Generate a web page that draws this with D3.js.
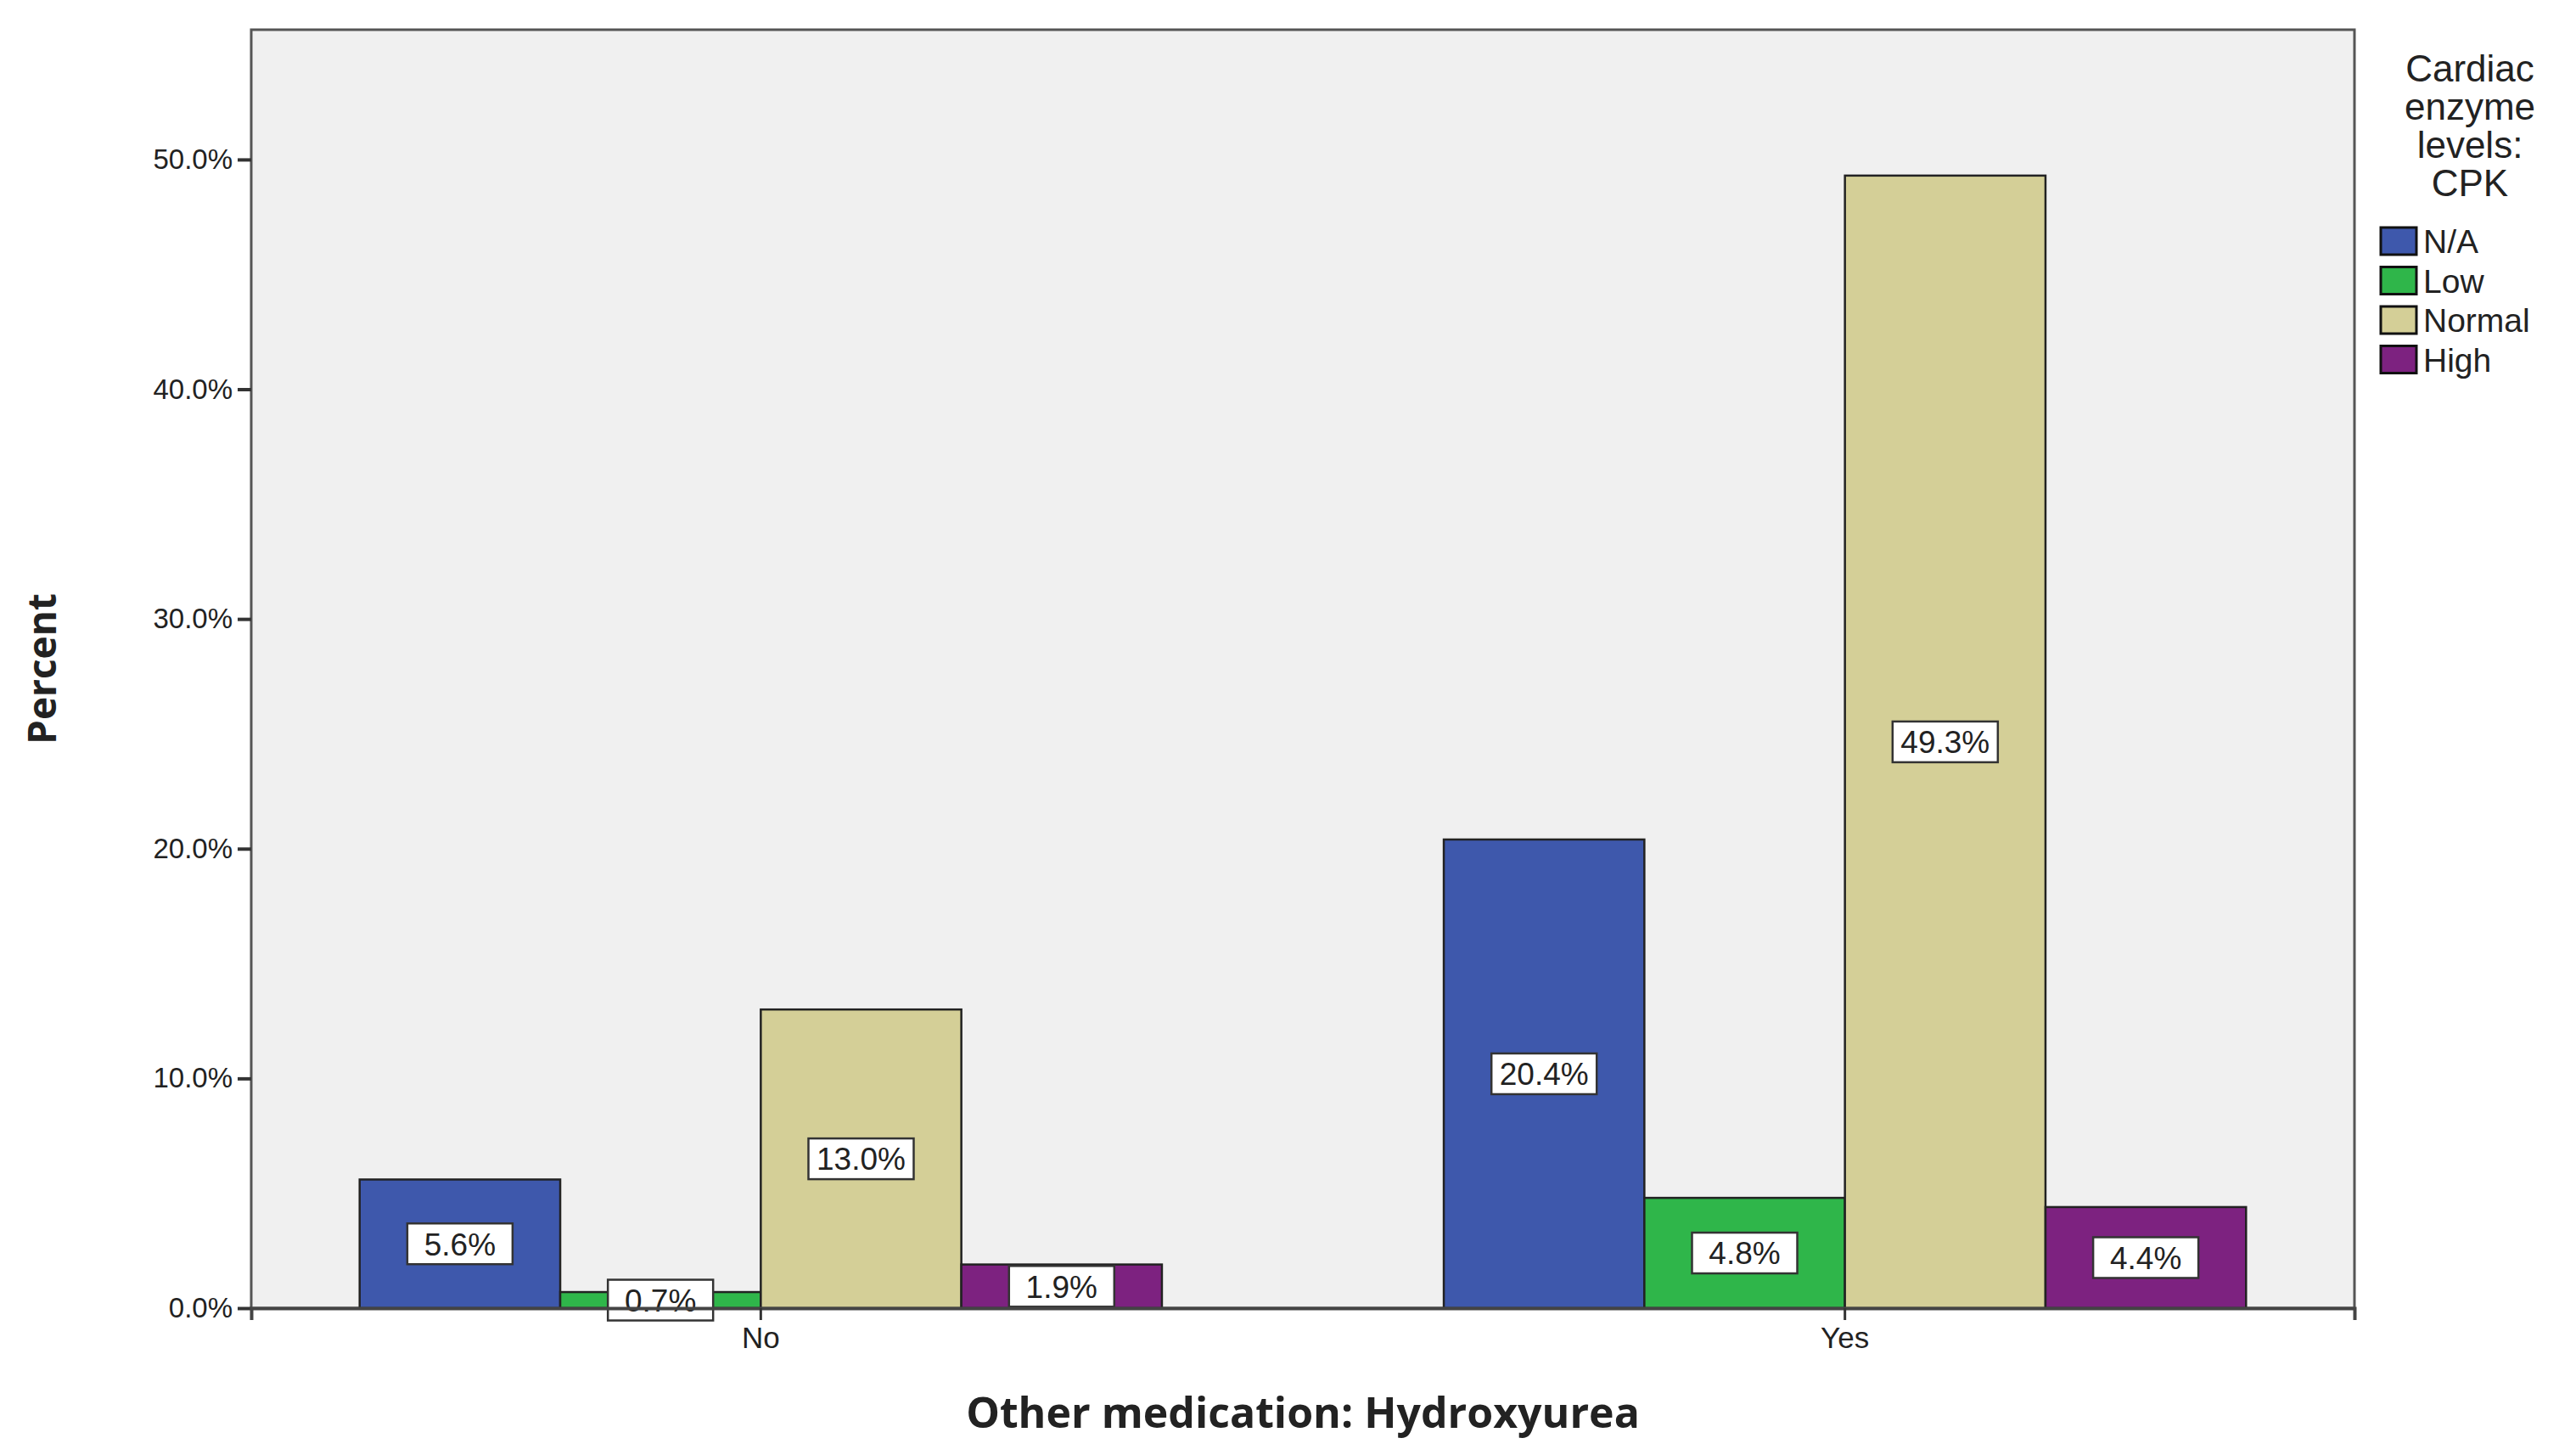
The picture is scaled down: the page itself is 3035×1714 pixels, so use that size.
<!DOCTYPE html>
<html lang="en">
<head>
<meta charset="utf-8">
<title>CPK by Hydroxyurea</title>
<style>
  body { margin: 0; background: #fff; }
  text { font-family: "Liberation Sans", Arial, sans-serif; fill: #222; }
</style>
</head>
<body>
<div id="chart"></div>
<script src="https://cdn.jsdelivr.net/npm/d3@7"></script>
<script>
var width = 3035, height = 1714;
var margin = {left: 296, top: 35, right: 261, bottom: 173};

var groups = ["No", "Yes"];
var levels = ["N/A", "Low", "Normal", "High"];
var colors = ["#3e58ac", "#2fb64a", "#d4cf97", "#7d2280"];
var valuesNo = [5.6, 0.7, 13.0, 1.9];
var valuesYes = [20.4, 4.8, 49.3, 4.4];
var yTicks = [0, 10, 20, 30, 40, 50];

var data = [];
groups.forEach(function(g, gi) {
  var vals = gi === 0 ? valuesNo : valuesYes;
  levels.forEach(function(l, li) {
    data.push({group: g, level: l, value: vals[li], color: colors[li]});
  });
});

var svg = d3.select("#chart").append("svg")
  .attr("width", width).attr("height", height);

var x0 = d3.scaleBand().domain(groups)
  .range([margin.left, width - margin.right])
  .paddingInner(0.26).paddingOuter(0.1);
var x1 = d3.scaleBand().domain(levels).range([0, x0.bandwidth()]);
var y = d3.scaleLinear().domain([0, 55.65])
  .range([height - margin.bottom, margin.top]);

// plot background + frame
svg.append("rect")
  .attr("x", margin.left).attr("y", margin.top)
  .attr("width", width - margin.left - margin.right)
  .attr("height", height - margin.top - margin.bottom)
  .attr("fill", "#f0f0f0").attr("stroke", "#555").attr("stroke-width", 3);

// bars
svg.selectAll("rect.bar").data(data).enter().append("rect")
  .attr("class", "bar")
  .attr("x", function(d) { return x0(d.group) + x1(d.level); })
  .attr("y", function(d) { return y(d.value); })
  .attr("width", x1.bandwidth())
  .attr("height", function(d) { return y(0) - y(d.value); })
  .attr("fill", function(d) { return d.color; })
  .attr("stroke", "#222").attr("stroke-width", 2.5);

// value labels
var lab = svg.selectAll("g.lab").data(data).enter().append("g")
  .attr("class", "lab")
  .attr("transform", function(d) {
    var cx = x0(d.group) + x1(d.level) + x1.bandwidth() / 2;
    var cy = (y(d.value) + y(0)) / 2;
    return "translate(" + cx + "," + cy + ")";
  });
lab.append("rect")
  .attr("x", -62).attr("y", -24).attr("width", 124).attr("height", 48)
  .attr("fill", "#fff").attr("stroke", "#333").attr("stroke-width", 2.5);
lab.append("text")
  .attr("text-anchor", "middle").attr("dy", "0.36em")
  .style("font-size", "37px")
  .text(function(d) { return d.value.toFixed(1) + "%"; });

// y axis
var yAxis = svg.append("g")
  .attr("transform", "translate(" + margin.left + ",0)")
  .call(d3.axisLeft(y).tickValues(yTicks).tickSize(16).tickPadding(6)
    .tickFormat(function(d) { return d.toFixed(1) + "%"; }));
yAxis.select(".domain").remove();
yAxis.selectAll("line").attr("stroke", "#333").attr("stroke-width", 4);
yAxis.selectAll("text").style("font-size", "33px").attr("fill", "#333");

// x axis
var xAxis = svg.append("g")
  .attr("transform", "translate(0," + y(0) + ")")
  .call(d3.axisBottom(x0).tickSize(14).tickPadding(8));
xAxis.select(".domain").attr("stroke", "#444").attr("stroke-width", 4);
xAxis.selectAll("line").attr("stroke", "#333").attr("stroke-width", 3);
xAxis.selectAll("text").style("font-size", "35px").attr("fill", "#333");

// axis titles
svg.append("text")
  .attr("transform", "translate(66," + (margin.top + y(0)) / 2 + ") rotate(-90)")
  .attr("text-anchor", "middle")
  .style("font-family", "'Open Sans', sans-serif")
  .style("font-weight", "bold").style("font-size", "46px")
  .text("Percent");
svg.append("text")
  .attr("x", (margin.left + width - margin.right) / 2).attr("y", 1682)
  .attr("text-anchor", "middle")
  .style("font-family", "'Open Sans', sans-serif")
  .style("font-weight", "bold").style("font-size", "50px")
  .text("Other medication: Hydroxyurea");

// legend
var legendTitle = ["Cardiac", "enzyme", "levels:", "CPK"];
svg.selectAll("text.ltitle").data(legendTitle).enter().append("text")
  .attr("class", "ltitle")
  .attr("x", 2910).attr("y", function(d, i) { return 96 + i * 45; })
  .attr("text-anchor", "middle").style("font-size", "44px").attr("fill", "#333")
  .text(function(d) { return d; });
var leg = svg.selectAll("g.leg").data(levels).enter().append("g")
  .attr("class", "leg")
  .attr("transform", function(d, i) { return "translate(2805," + (268 + i * 46.5) + ")"; });
leg.append("rect")
  .attr("width", 42).attr("height", 32)
  .attr("fill", function(d, i) { return colors[i]; })
  .attr("stroke", "#111").attr("stroke-width", 3);
leg.append("text")
  .attr("x", 50).attr("y", 16).attr("dy", "0.36em")
  .style("font-size", "39px").attr("fill", "#111")
  .text(function(d) { return d; });
</script>
</body>
</html>
